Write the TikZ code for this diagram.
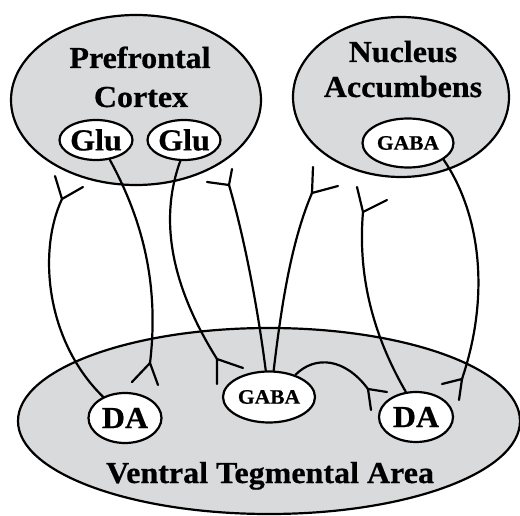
\documentclass[tikz,border=0pt]{standalone}
\usepackage{fontspec}
\setmainfont{Liberation Serif}[FakeStretch=1.05,FakeBold=0.6]
\usetikzlibrary{shapes.geometric}
\definecolor{regiongray}{RGB}{217,218,219}
\tikzset{
  region/.style={ellipse, draw=black, line width=2.2pt, fill=regiongray, inner sep=0pt},
  cell/.style={ellipse, draw=black, line width=2.2pt, fill=white, inner sep=0pt},
  big/.style={font=\bfseries\fontsize{30.5}{39}\selectfont, anchor=base, inner sep=0pt},
  cellbig/.style={font=\bfseries\fontsize{30.5}{32}\selectfont},
  small/.style={font=\bfseries\fontsize{20.5}{22}\selectfont},
  axon/.style={draw=black, line width=2.2pt, line cap=round},
}
\begin{document}
\begin{tikzpicture}[x=1pt,y=-1pt]
\useasboundingbox (0,0) rectangle (520,516);
% regions
\node[region, minimum width=502pt, minimum height=186pt] (vta) at (269,421) {};
\node[region, minimum width=250pt, minimum height=170pt] (pfc) at (136,100) {};
\node[region, minimum width=216pt, minimum height=160pt] (nac) at (401,97) {};
% region labels
\node[big] (pfct1) at (140,68) {Prefrontal};
\node[big] (pfct2) at (141,107) {Cortex};
\node[big] (nact1) at (403,62) {Nucleus};
\node[big] (nact2) at (403,97) {Accumbens};
\node[big] (vtat) at (270,483) {Ventral Tegmental Area};
% cells
\node[cell, cellbig, minimum width=70pt, minimum height=40pt] (gluL) at (96,140) {Glu};
\node[cell, cellbig, minimum width=73pt, minimum height=40pt] (gluR) at (184,140) {Glu};
\node[cell, small, minimum width=91pt, minimum height=49pt] (gabaN) at (408,143) {GABA};
\node[cell, cellbig, minimum width=73pt, minimum height=50pt] (daL) at (125,418) {DA};
\node[cell, small, minimum width=92pt, minimum height=51pt] (gabaV) at (269,397) {GABA};
\node[cell, cellbig, minimum width=74pt, minimum height=50pt] (daR) at (416,417) {DA};
% fork points
\coordinate (f1) at (62,199);  \coordinate (f1a) at (55,176);  \coordinate (f1b) at (83,187);
\coordinate (f2) at (150,363); \coordinate (f2a) at (132,382); \coordinate (f2b) at (158,385);
\coordinate (f3) at (217,359); \coordinate (f3a) at (217,384); \coordinate (f3b) at (243,368);
\coordinate (f4) at (229,185); \coordinate (f4a) at (232,169); \coordinate (f4b) at (207,182);
\coordinate (f5) at (312,193); \coordinate (f5a) at (313,167); \coordinate (f5b) at (338,186);
\coordinate (f6) at (363,212); \coordinate (f6a) at (357,187); \coordinate (f6b) at (387,200);
\coordinate (f7) at (368,389); \coordinate (f7a) at (387,392); \coordinate (f7b) at (371,410);
\coordinate (f8) at (462,379); \coordinate (f8a) at (442,384); \coordinate (f8b) at (459,400);
% axons
\draw[axon] (daL.136) .. controls (45,340) and (38,250) .. (f1);
\draw[axon] (f1a) -- (f1) -- (f1b);
\draw[axon] (gluL.-55) .. controls (140,215) and (160,280) .. (f2);
\draw[axon] (f2a) -- (f2) -- (f2b);
\draw[axon] (gluR.-100) .. controls (155,230) and (180,300) .. (f3);
\draw[axon] (f3a) -- (f3) -- (f3b);
\draw[axon] (f4) .. controls (245,240) and (258,310) .. (gabaV.97);
\draw[axon] (f4a) -- (f4) -- (f4b);
\draw[axon] (gabaV.80) .. controls (282,300) and (292,240) .. (f5);
\draw[axon] (f5a) -- (f5) -- (f5b);
\draw[axon] (daR.112) .. controls (370,330) and (358,270) .. (f6);
\draw[axon] (f6a) -- (f6) -- (f6b);
\draw[axon] (gabaV.40) .. controls (315,355) and (345,358) .. (f7);
\draw[axon] (f7a) -- (f7) -- (f7b);
\draw[axon] (gabaN.-25) .. controls (478,210) and (492,290) .. (f8);
\draw[axon] (f8a) -- (f8) -- (f8b);
\end{tikzpicture}
\end{document}
